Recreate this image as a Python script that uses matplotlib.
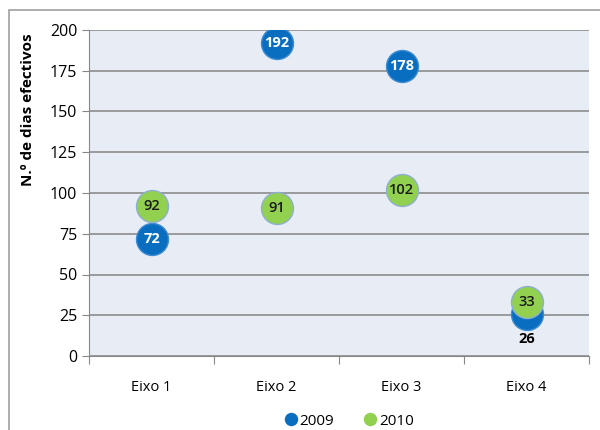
import matplotlib.pyplot as plt
from matplotlib.patches import Rectangle

plt.rcParams['font.family'] = ['Open Sans', 'DejaVu Sans']

categories = ['Eixo 1', 'Eixo 2', 'Eixo 3', 'Eixo 4']
vals_2009 = [72, 192, 178, 26]
vals_2010 = [92, 91, 102, 33]
yticks = [0, 25, 50, 75, 100, 125, 150, 175, 200]

blue = '#0A6EC0'
green = '#92D050'

fig = plt.figure(figsize=(6, 4.3), dpi=100)
fig.patches.append(Rectangle((9 / 600, -0.05), 1.1, 1 - 10 / 430 + 0.05,
                             transform=fig.transFigure, fill=False,
                             edgecolor='#A0A0A0', linewidth=1.2))
ax = fig.add_axes([89 / 600, 1 - 356 / 430, 500 / 600, 326 / 430])
ax.set_facecolor('#E8ECF4')

x = list(range(1, len(categories) + 1))
ax.plot(x, vals_2009, 'o', color=blue, markersize=23, markeredgecolor='#3C8AD0',
        markeredgewidth=1, label='2009', zorder=3)
ax.plot(x, vals_2010, 'o', color=green, markersize=23, markeredgecolor='#8FAFCF',
        markeredgewidth=1, label='2010', zorder=4)

for xi, v in zip(x, vals_2009):
    if v < 30:
        ax.annotate(str(v), (xi, v), xytext=(0, -18), textcoords='offset points',
                    ha='center', va='center', fontsize=10.5, fontweight='bold',
                    color='black', zorder=5)
    else:
        ax.text(xi, v, str(v), ha='center', va='center', fontsize=10.5,
                fontweight='bold', color='white', zorder=5)
for xi, v in zip(x, vals_2010):
    ax.text(xi, v, str(v), ha='center', va='center', fontsize=10.5,
            fontweight='semibold', color='#1A1A1A', zorder=6)

ax.set_xlim(0.5, 4.5)
ax.set_ylim(0, 200)
ax.set_yticks(yticks)
ax.set_xticks([0.5, 1.5, 2.5, 3.5, 4.5])
ax.set_xticklabels([])
ax.set_xticks(x, minor=True)
ax.set_xticklabels(categories, minor=True)
ax.tick_params(axis='x', which='minor', length=0, pad=17, labelsize=10.5)
ax.tick_params(axis='x', which='major', length=6, color='#888888')
ax.tick_params(axis='y', length=5, color='#888888', labelsize=11.5)
ax.grid(axis='y', color='#8C8C8C', linewidth=1.2)
ax.set_axisbelow(True)
for s in ['top', 'right']:
    ax.spines[s].set_visible(False)
for s in ['left', 'bottom']:
    ax.spines[s].set_color('#888888')

ax.set_ylabel('N.º de dias efectivos', fontsize=11, fontweight='bold')
ax.yaxis.set_label_coords(-0.108, 0.755)

leg = ax.legend(loc='center', bbox_to_anchor=(0.52, -0.2), ncol=2, frameon=False,
                markerscale=0.42, handlelength=0.8, handletextpad=0.15,
                columnspacing=2.0, fontsize=11)
for h in leg.legend_handles:
    h.set_markeredgewidth(0)

fig.savefig('out.png', dpi=100)
